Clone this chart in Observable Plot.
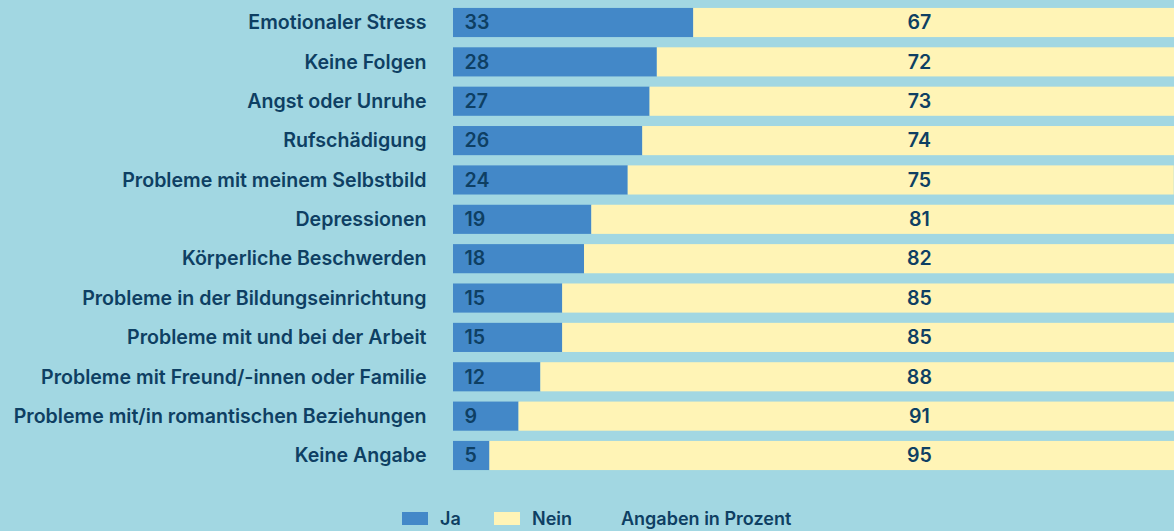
<!DOCTYPE html>
<html>
<head>
<meta charset="utf-8">
<script src="https://cdn.jsdelivr.net/npm/d3@7"></script>
<script src="https://cdn.jsdelivr.net/npm/@observablehq/plot@0.6"></script>
<style>
  html, body { margin: 0; padding: 0; overflow: hidden; background: #a2d7e2; }
  body { width: 1174px; height: 531px; font-family: Inter, "Noto Sans", sans-serif; position: relative; }
  #chart svg { display: block; max-width: none; }
  .legend { position: absolute; top: 509px; left: 0; height: 20px; font-size: 18px; font-weight: 600; color: #0e3f63; line-height: 20px; }
  .legend .sw { position: absolute; top: 3px; width: 26px; height: 13px; }
  .legend .lbl { position: absolute; top: 0; white-space: nowrap; }
</style>
</head>
<body>
<div id="chart"></div>
<div class="legend">
  <span class="sw" style="left:402px;background:#4388c8"></span><span class="lbl" style="left:440px">Ja</span>
  <span class="sw" style="left:494px;background:#fff4b6"></span><span class="lbl" style="left:532px">Nein</span>
  <span class="lbl" style="left:621px">Angaben in Prozent</span>
</div>
<script>
const categories = [
  "Emotionaler Stress",
  "Keine Folgen",
  "Angst oder Unruhe",
  "Rufschädigung",
  "Probleme mit meinem Selbstbild",
  "Depressionen",
  "Körperliche Beschwerden",
  "Probleme in der Bildungseinrichtung",
  "Probleme mit und bei der Arbeit",
  "Probleme mit Freund/-innen oder Familie",
  "Probleme mit/in romantischen Beziehungen",
  "Keine Angabe"
];
const ja   = [33, 28, 27, 26, 24, 19, 18, 15, 15, 12, 9, 5];
const nein = [67, 72, 73, 74, 75, 81, 82, 85, 85, 88, 91, 95];
const seriesNames = ["Ja", "Nein"];
const seriesColors = ["#4388c8", "#fff4b6"];
const neinLabelPos = 64;

const rows = categories.flatMap((c, i) => [
  {category: c, answer: "Ja", value: ja[i]},
  {category: c, answer: "Nein", value: nein[i]}
]);
const jaRows = rows.filter(d => d.answer === "Ja");
const neinRows = rows.filter(d => d.answer === "Nein");

const textColor = "#0e3f63";
const fs = 19.6;
const chart = Plot.plot({
  width: 1181,
  height: 478,
  marginLeft: 453,
  marginRight: 0,
  marginTop: 4,
  marginBottom: 4,
  style: {background: "transparent", fontFamily: "Inter, 'Noto Sans', sans-serif", maxWidth: "none"},
  x: {domain: [0, 100], axis: null},
  y: {domain: categories, paddingInner: 0.26, paddingOuter: 0.1, round: false, label: null, axis: null},
  color: {domain: seriesNames, range: seriesColors},
  marks: [
    Plot.axisY({tickSize: 0, tickPadding: 27, fontSize: fs, fontWeight: 600, fill: textColor, label: null}),
    Plot.barX(rows, Plot.stackX({x: "value", y: "category", fill: "answer", order: seriesNames})),
    Plot.text(jaRows, {x: 0, y: "category", text: d => String(d.value), textAnchor: "start", dx: 11, fontSize: fs, fontWeight: 600, fill: textColor}),
    Plot.text(neinRows, {x: neinLabelPos, y: "category", text: d => String(d.value), textAnchor: "middle", fontSize: fs, fontWeight: 600, fill: textColor})
  ]
});
document.getElementById("chart").appendChild(chart);
</script>
</body>
</html>
